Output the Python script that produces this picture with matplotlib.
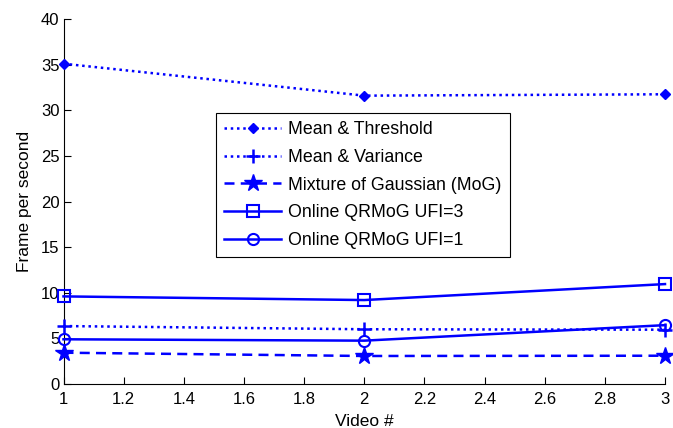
import matplotlib
matplotlib.use("Agg")
import matplotlib.pyplot as plt

plt.rcParams['font.family'] = ['Liberation Sans', 'DejaVu Sans']

videos = [1, 2, 3]
mean_threshold = [35.1, 31.6, 31.75]
mean_variance = [6.35, 6.0, 5.95]
mog = [3.43, 3.07, 3.1]
qrmog_ufi3 = [9.6, 9.2, 10.95]
qrmog_ufi1 = [4.9, 4.75, 6.45]

blue = (0, 0, 1)

fig = plt.figure(figsize=(6.73, 4.28), dpi=100)
ax = fig.add_axes([63.5 / 673, 1 - 384 / 428, (665 - 63.5) / 673, (384 - 19) / 428])

common = dict(color=blue, lw=1.8, clip_on=False, zorder=3)
ax.plot(videos, mean_threshold, linestyle=(0, (1, 1.5)), marker='D', markersize=5,
        label='Mean & Threshold', **common)
ax.plot(videos, mean_variance, linestyle=(0, (1, 1.5)), marker='+', markersize=10,
        markeredgewidth=1.8, label='Mean & Variance', **common)
ax.plot(videos, mog, linestyle=(0, (4, 2.5)), marker='*', markersize=13,
        label='Mixture of Gaussian (MoG)', **common)
ax.plot(videos, qrmog_ufi3, linestyle='-', marker='s', markersize=8,
        markerfacecolor='none', markeredgewidth=1.5, label='Online QRMoG UFI=3', **common)
ax.plot(videos, qrmog_ufi1, linestyle='-', marker='o', markersize=8,
        markerfacecolor='none', markeredgewidth=1.5, label='Online QRMoG UFI=1', **common)

ax.set_xlim(1, 3)
ax.set_ylim(0, 40)
ax.set_xticks([1, 1.2, 1.4, 1.6, 1.8, 2, 2.2, 2.4, 2.6, 2.8, 3])
ax.set_xticklabels(['1', '1.2', '1.4', '1.6', '1.8', '2', '2.2', '2.4', '2.6', '2.8', '3'])
ax.set_yticks(range(0, 41, 5))
ax.tick_params(direction='in', length=5, labelsize=12)
ax.tick_params(axis='y', pad=3)
ax.tick_params(axis='x', pad=6)
ax.spines['top'].set_visible(False)
ax.spines['right'].set_visible(False)
for s in ax.spines.values():
    s.set_linewidth(0.8)
ax.set_xlabel('Video #', fontsize=12.5, labelpad=5)
ax.set_ylabel('Frame per second', fontsize=12.5, labelpad=6)

leg = ax.legend(loc='upper left', bbox_to_anchor=(0.254, 0.742), borderaxespad=0,
                fontsize=12.8, frameon=True, fancybox=False, edgecolor='black',
                framealpha=1, handlelength=3.2, borderpad=0.45, labelspacing=0.6,
                handletextpad=0.4)
leg.get_frame().set_linewidth(0.8)

fig.savefig('out.png', dpi=100)
